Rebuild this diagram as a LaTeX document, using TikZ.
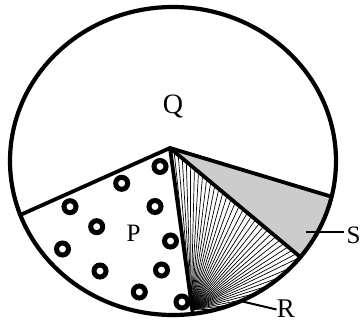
\documentclass[tikz,border=0pt]{standalone}
\usepackage{fontspec}
\setmainfont{Liberation Serif}
\usetikzlibrary{calc}
\begin{document}
\begin{tikzpicture}[x=1pt,y=1pt,
  bound/.style={line width=3.8pt, line join=round, line cap=round},
  ringnode/.style={circle, draw, line width=5pt, minimum size=12pt, inner sep=0pt},
  hatch/.style={line width=0.7pt},
  leader/.style={line width=2pt},
  lab/.style={inner sep=0pt, anchor=base}]
\useasboundingbox (0,0) rectangle (361,322);
\coordinate (C) at (173,161);
\coordinate (A) at (170,174);
\coordinate (PL) at ($(C)+(200.5:163pt and 154pt)$);
\coordinate (ST) at ($(C)+(346.6:163pt and 154pt)$);
\coordinate (SR) at ($(C)+(321.4:163pt and 154pt)$);
\coordinate (RP) at ($(C)+(277:163pt and 154pt)$);
\coordinate (F) at (191,12);
% S region
\fill[black!20] (A) -- (ST) arc[start angle=346.6, end angle=321.4, x radius=163pt, y radius=154pt] -- cycle;
% R hatching
\begin{scope}
\clip (A) -- (SR) arc[start angle=321.4, end angle=277, x radius=163pt, y radius=154pt] -- cycle;
\foreach \k in {0,...,32} \draw[hatch] (F) -- ($(F)!1.1!($(A)!\k/32!(SR)$)$);
\foreach \t in {316,311,...,286} \draw[hatch] (F) -- ($(F)!1.1!($(C)+(\t:163pt and 154pt)$)$);
\end{scope}
% rings
\node[ringnode] (r1) at (160,155.5) {};
\node[ringnode] (r2) at (121.7,138.7) {};
\node[ringnode] (r3) at (70,115.3) {};
\node[ringnode] (r4) at (155,115.5) {};
\node[ringnode] (r5) at (96.7,95.3) {};
\node[ringnode] (r6) at (170.5,81) {};
\node[ringnode] (r7) at (62.5,73) {};
\node[ringnode] (r8) at (100,51) {};
\node[ringnode] (r9) at (161.5,52) {};
\node[ringnode] (r10) at (139.3,30) {};
\node[ringnode] (r11) at (182,20) {};
% boundaries
\draw[bound] (PL) -- (A) -- (ST);
\draw[bound] (A) -- (SR);
\draw[bound] (A) -- (RP);
\draw[line width=4.2pt] (C) ellipse[x radius=163pt, y radius=154pt];
% labels
\node[lab, font=\fontsize{28}{28}\selectfont] (q) at (173,208.5) {Q};
\node[lab, font=\fontsize{25}{25}\selectfont] (p) at (133.5,80.5) {P};
\node[lab, font=\fontsize{25}{25}\selectfont] (s) at (353.5,78.7) {S};
\node[lab, font=\fontsize{27}{27}\selectfont] (r) at (286,5) {R};
\coordinate (s1) at (306,90.3);
\coordinate (s2) at (344,90.3);
\coordinate (q1) at (243.3,20.3);
\coordinate (q2) at (276.5,12.5);
\draw[leader] (s1) -- (s2);
\draw[leader] (q1) -- (q2);
\end{tikzpicture}
\end{document}
